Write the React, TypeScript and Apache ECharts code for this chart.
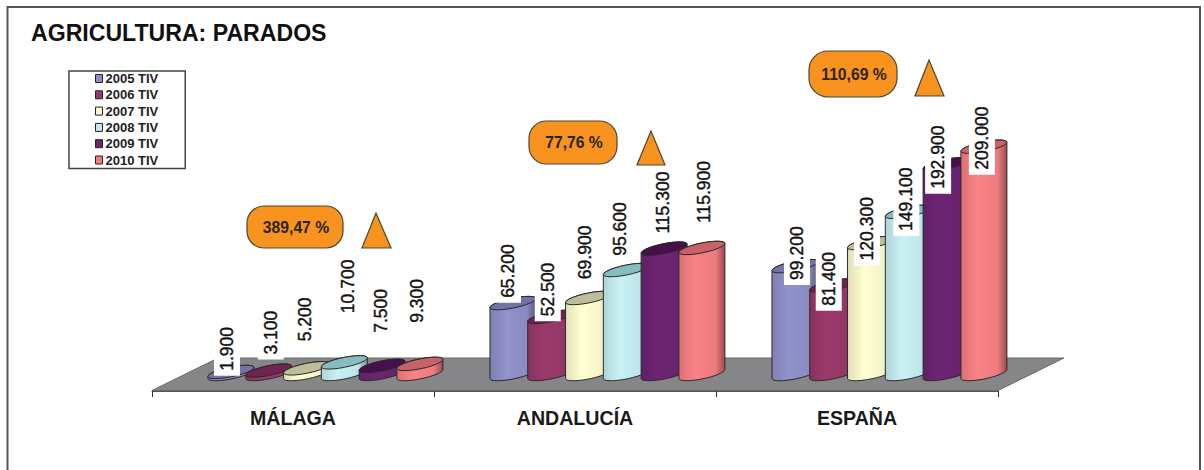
import React, { useEffect, useRef } from "react";
import * as echarts from "echarts";

const categories = ["MÁLAGA", "ANDALUCÍA", "ESPAÑA"];
const seriesNames = ["2005 TIV", "2006 TIV", "2007 TIV", "2008 TIV", "2009 TIV", "2010 TIV"];
const values2005 = [1900, 65200, 99200];
const values2006 = [3100, 52500, 81400];
const values2007 = [5200, 69900, 120300];
const values2008 = [10700, 95600, 149100];
const values2009 = [7500, 115300, 192900];
const values2010 = [9300, 115900, 209000];
const allValues = [values2005, values2006, values2007, values2008, values2009, values2010];
const variations = ["389,47 %", "77,76 %", "110,69 %"];
const bodyColors = ["#8E8EC6", "#963868", "#F8F8CC", "#C2EAEE", "#6A2470", "#F27E82"];
const lidColors = ["#7272A8", "#6F2450", "#BEBE9C", "#86BDC0", "#46104C", "#C96268"];
const FONT = "'Liberation Sans', Arial, sans-serif";

// hand placement of the data labels, [Málaga, Andalucía, España] for each series (px)
const labelLift = [
  [23, 32, 13],
  [38, 27.5, 6.6],
  [49, 45.6, 14.4],
  [76, 41, 12.6],
  [55, 46, 7],
  [63, 56, 8.5],
];
const labelShift = [
  [-4, -5, 2],
  [2, -3, -4],
  [-1.6, -3.6, -3.6],
  [4, -6, -2],
  [-1, -1, -8],
  [-3, 2, -2],
];

const FLOOR_LIFT = 17;
const HALF_W = 23;
const SHEAR = 4.5;
const MINOR = 5;
const STEP = 0.134;
const START = -0.22;

function shade(hex: string, f: number) {
  const n = parseInt(hex.slice(1), 16);
  const c = [(n >> 16) & 255, (n >> 8) & 255, n & 255].map((v) => Math.min(255, Math.round(v * f)));
  return `rgb(${c[0]},${c[1]},${c[2]})`;
}

function rim(cx: number, cy: number, from: number, to: number) {
  const pts: number[][] = [];
  const n = 24;
  for (let k = 0; k <= n; k++) {
    const t = from + ((to - from) * k) / n;
    pts.push([cx + HALF_W * Math.cos(t), cy - SHEAR * Math.cos(t) + MINOR * Math.sin(t)]);
  }
  return pts;
}

function formatThousands(v: number) {
  return String(v).replace(/\B(?=(\d{3})+$)/g, ".");
}

function makeCylinderSeries(si: number) {
  return {
    type: "custom",
    name: seriesNames[si],
    z: 3 + si,
    clip: false,
    itemStyle: { color: bodyColors[si] },
    encode: { x: 0, y: 1 },
    data: allValues[si].map((v, ci) => [ci, v]),
    renderItem: (_p: any, api: any) => {
      const ci = api.value(0) as number;
      const val = api.value(1) as number;
      const base = api.coord([ci, 0]);
      const top = api.coord([ci, val]);
      const band = api.size([1, 0])[0];
      const cx = base[0] + (START + STEP * si) * band;
      const by = base[1] - FLOOR_LIFT;
      const ty = top[1] - FLOOR_LIFT;
      const color = bodyColors[si];
      const body = [...rim(cx, by, Math.PI, 0), ...rim(cx, ty, 0, -Math.PI)];
      const fill = new echarts.graphic.LinearGradient(0, 0, 1, 0, [
        { offset: 0, color: shade(color, 0.9) },
        { offset: 0.35, color: shade(color, 1.03) },
        { offset: 0.8, color: shade(color, 0.98) },
        { offset: 1, color: shade(color, 0.62) },
      ]);
      const stroke = { stroke: "#2a2a2a", lineWidth: 1 };
      return {
        type: "group",
        children: [
          { type: "polygon", z2: 1, shape: { points: body }, style: { fill, ...stroke } },
          {
            type: "polygon",
            z2: 2,
            shape: { points: rim(cx, ty, 0, Math.PI * 2) },
            style: { fill: lidColors[si], ...stroke },
          },
          {
            type: "text",
            z2: 100,
            x: cx + labelShift[si][ci],
            y: ty - labelLift[si][ci],
            rotation: Math.PI / 2,
            style: {
              text: formatThousands(val),
              fontFamily: FONT,
              fontSize: 17.5,
              fill: "#111",
              stroke: "#111",
              lineWidth: 0.4,
              align: "center",
              verticalAlign: "middle",
              backgroundColor: "#fff",
              padding: [4, 5, 4, 5],
            },
          },
        ],
      };
    },
  };
}

function callout(text: string, x: number, y: number, w: number, h: number, tri: number[][]) {
  const edge = { fill: "#F7931E", stroke: "#4a4636", lineWidth: 1.2 };
  return [
    { type: "rect", z: 20, shape: { x, y, width: w, height: h, r: h / 2 - 4 }, style: edge },
    {
      type: "text",
      z: 21,
      x: x + w / 2 + 1,
      y: y + h / 2,
      style: {
        text,
        fontFamily: FONT,
        fontSize: 15.7,
        fontWeight: "bold",
        fill: "#2a2416",
        align: "center",
        verticalAlign: "middle",
      },
    },
    { type: "polygon", z: 20, shape: { points: tri }, style: edge },
  ];
}

export default function App() {
  const ref = useRef<HTMLDivElement>(null);
  useEffect(() => {
    const chart = echarts.init(ref.current!, null, { renderer: "svg" });
    chart.setOption({
      animation: false,
      backgroundColor: "#fff",
      title: {
        text: "AGRICULTURA: PARADOS",
        left: 31,
        top: 21.5,
        padding: 0,
        textStyle: { fontFamily: FONT, fontSize: 23.1, fontWeight: "bold", color: "#111" },
      },
      legend: {
        orient: "vertical",
        left: 69,
        top: 71,
        padding: [1, 27, 2, 26],
        itemGap: 3.3,
        itemWidth: 7,
        itemHeight: 8,
        borderColor: "#444",
        borderWidth: 1.5,
        icon: "rect",
        data: seriesNames,
        itemStyle: { borderColor: "#222", borderWidth: 1 },
        textStyle: { fontFamily: FONT, fontSize: 13, fontWeight: "bold", color: "#222", padding: [0, 0, 0, -2] },
        selectedMode: false,
      },
      grid: { left: 152, top: 130, width: 846, height: 261 },
      xAxis: {
        type: "category",
        data: categories,
        boundaryGap: true,
        axisLine: { lineStyle: { color: "#555", width: 1 } },
        axisTick: { show: true, length: 6, alignWithLabel: false, lineStyle: { color: "#333" } },
        axisLabel: { fontFamily: FONT, fontSize: 19.6, fontWeight: "bold", color: "#1a1a1a", margin: 17 },
      },
      yAxis: { type: "value", min: 0, max: 240000, show: false },
      graphic: [
        {
          type: "polyline",
          z: 0,
          shape: { points: [[7.5, 472], [7.5, 7], [1200, 7], [1200, 472]] },
          style: { fill: "none", stroke: "#555", lineWidth: 2 },
        },
        {
          type: "polygon",
          z: 1,
          shape: { points: [[152, 390.5], [218, 358], [1064, 358], [998, 390.5]] },
          style: { fill: "#868688", stroke: "#6a6a6a", lineWidth: 1 },
        },
        ...callout(variations[0], 247, 206, 96, 42, [[376, 213], [362, 248], [391, 248]]),
        ...callout(variations[1], 529, 121, 88, 43, [[651, 131], [637, 165], [665, 165]]),
        ...callout(variations[2], 809, 51, 88, 46, [[929, 60], [915, 96], [944, 96]]),
      ],
      series: seriesNames.map((_, si) => makeCylinderSeries(si)),
    });
    return () => chart.dispose();
  }, []);
  return <div ref={ref} style={{ position: "fixed", left: 0, top: 0, width: 1204, height: 470 }} />;
}
